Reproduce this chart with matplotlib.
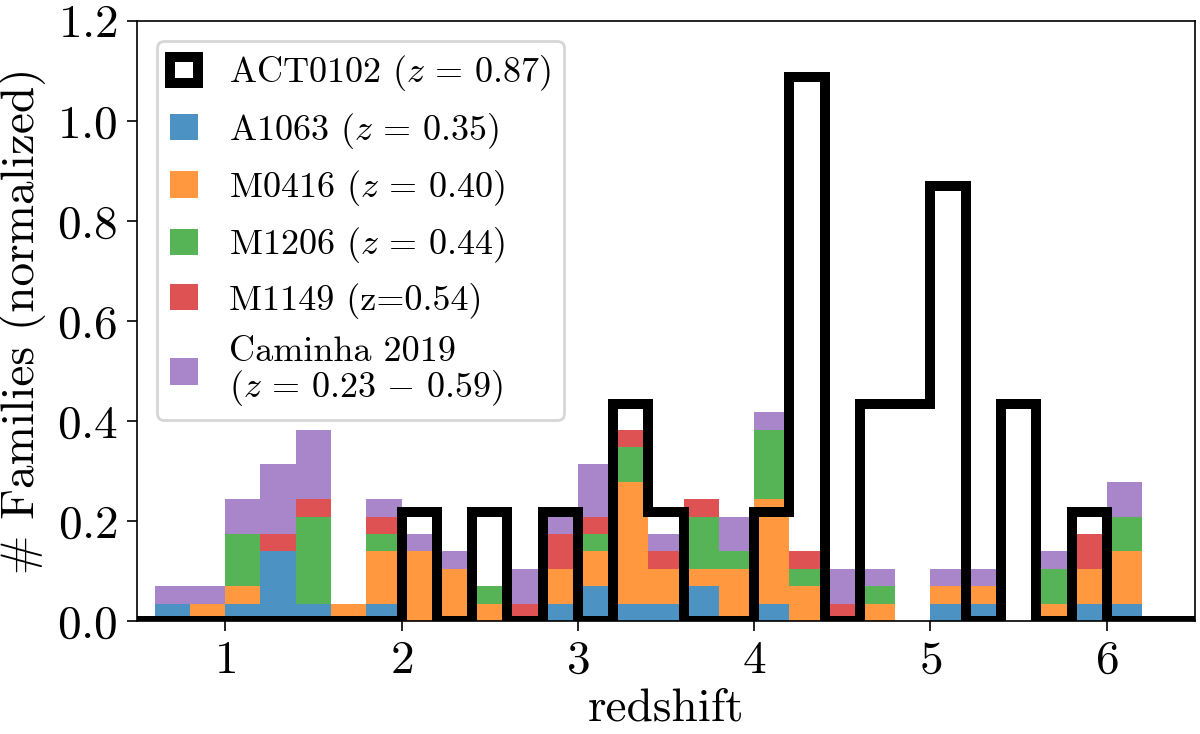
import numpy as np
import matplotlib
matplotlib.use("Agg")
import matplotlib.pyplot as plt

plt.rcParams.update({
    "font.family": "serif",
    "font.serif": ["cmr10", "DejaVu Serif"],
    "mathtext.fontset": "cm",
    "axes.formatter.use_mathtext": True,
    "axes.unicode_minus": False,
})

# ---- data -------------------------------------------------------------
bin_width = 0.2
bin_lefts = [0.6, 0.8, 1.0, 1.2, 1.4, 1.6, 1.8, 2.0, 2.2, 2.4, 2.6, 2.8, 3.0,
             3.2, 3.4, 3.6, 3.8, 4.0, 4.2, 4.4, 4.6, 4.8, 5.0, 5.2, 5.4, 5.6,
             5.8, 6.0, 6.2]

# number of families per bin
a1063    = [1, 0, 1, 4, 1, 0, 1, 0, 0, 0, 0, 1, 2, 1, 1, 2, 0, 1, 0, 0, 0, 0, 1, 1, 0, 0, 1, 1, 0]
m0416    = [0, 1, 1, 0, 0, 1, 3, 4, 3, 1, 0, 2, 2, 7, 2, 1, 3, 6, 2, 0, 1, 0, 1, 1, 0, 1, 2, 3, 0]
m1206    = [0, 0, 3, 0, 5, 0, 1, 0, 0, 1, 0, 0, 1, 2, 0, 3, 1, 4, 1, 0, 1, 0, 0, 0, 0, 2, 0, 2, 0]
m1149    = [0, 0, 0, 1, 1, 0, 1, 0, 0, 0, 1, 2, 1, 1, 1, 1, 0, 0, 1, 1, 0, 0, 0, 0, 0, 0, 2, 0, 0]
caminha  = [1, 1, 2, 4, 4, 0, 1, 1, 1, 0, 2, 1, 3, 0, 1, 0, 2, 1, 0, 2, 1, 0, 1, 1, 0, 1, 0, 2, 0]
act0102  = [0, 0, 0, 0, 0, 0, 0, 1, 0, 1, 0, 1, 0, 2, 1, 0, 0, 1, 5, 0, 2, 2, 4, 0, 2, 0, 1, 0, 0]

# normalized height of one family
stack_unit = 0.0348
act_unit = 0.2174

labels = [r"A1063 ($z\,=\,0.35$)", r"M0416 ($z\,=\,0.40$)", r"M1206 ($z\,=\,0.44$)",
          "M1149 (z=0.54)", "Caminha 2019\n" + r"($z\,=\,0.23\,-\,0.59$)"]
act_label = r"ACT0102 ($z\,=\,0.87$)"
colors = ["tab:blue", "tab:orange", "tab:green", "tab:red", "tab:purple"]

# ---- plot -------------------------------------------------------------
lefts = np.array(bin_lefts)
edges = np.append(lefts, lefts[-1] + bin_width)
centers = lefts + bin_width / 2
series = [a1063, m0416, m1206, m1149, caminha]

fig = plt.figure(figsize=(6.0, 3.67), dpi=200)
ax = fig.add_axes([0.1142, 0.154, 0.8816, 0.8174])

_, _, bar_patches = ax.hist([centers] * len(series), bins=edges,
                            weights=[np.array(s) * stack_unit for s in series],
                            stacked=True, histtype="bar", rwidth=1.0,
                            color=colors, alpha=0.8, label=labels)

# ACT0102 outline; padded with empty bins so the baseline spans the view
pad_left = np.array([0.0, 0.2, 0.4])
pad_right = np.array([6.6, 6.8, 7.0])
act_edges = np.concatenate([pad_left, edges, pad_right])
act_centers = act_edges[:-1] + bin_width / 2
act_counts = np.concatenate([np.zeros(len(pad_left)), act0102,
                             np.zeros(len(pad_right))])
_, _, act_patch = ax.hist(act_centers, bins=act_edges,
                          weights=act_counts * act_unit,
                          histtype="step", color="black", linewidth=3.6,
                          label=act_label)

ax.set_xlim(0.5, 6.5)
ax.set_ylim(0.0, 1.2)
ax.set_xticks([1, 2, 3, 4, 5, 6])
ax.set_yticks([0.0, 0.2, 0.4, 0.6, 0.8, 1.0, 1.2])
ax.tick_params(labelsize=17, direction="out", length=3.5, width=0.6)
for sp in ax.spines.values():
    sp.set_linewidth(0.6)

ax.set_xlabel("redshift", fontsize=17, labelpad=2)
ax.set_ylabel("# Families (normalized)", fontsize=17, labelpad=4)

handles = [act_patch[0]] + [bc.patches[0] for bc in bar_patches]
leg_labels = [act_label] + labels
leg = ax.legend(handles, leg_labels, loc="upper left", fontsize=13,
                fancybox=True, framealpha=0.8, borderaxespad=0.55,
                borderpad=0.35, handlelength=0.8, handleheight=0.75,
                handletextpad=0.85, labelspacing=0.48)
for t in leg.get_texts():
    t.set_linespacing(1.0)

fig.savefig("out.png", dpi=200)
